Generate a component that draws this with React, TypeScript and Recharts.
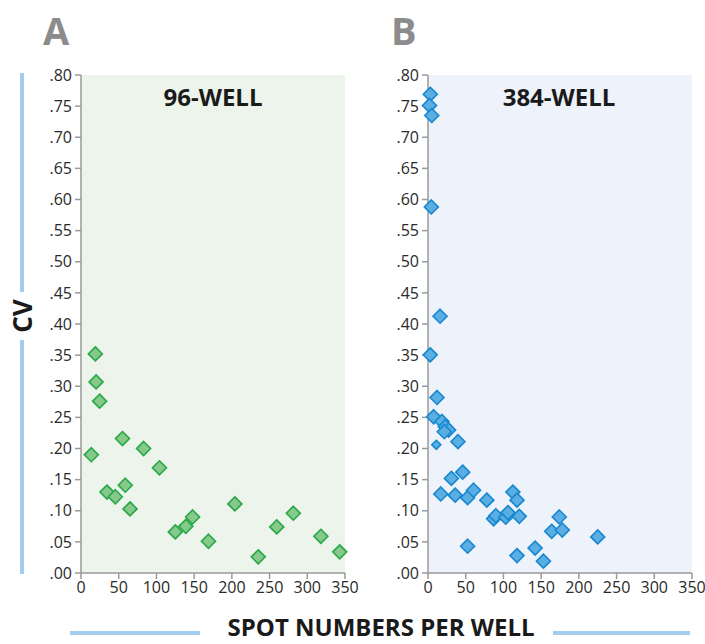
import React from 'react';
import { ScatterChart, Scatter, XAxis, YAxis, CartesianGrid } from 'recharts';

const xTicks = [0, 50, 100, 150, 200, 250, 300, 350];
const yTicks = [0, 0.05, 0.1, 0.15, 0.2, 0.25, 0.3, 0.35, 0.4, 0.45, 0.5, 0.55, 0.6, 0.65, 0.7, 0.75, 0.8];

const wells96 = [
  { x: 19, y: 0.352 },
  { x: 20, y: 0.307 },
  { x: 24.7, y: 0.276 },
  { x: 13.7, y: 0.19 },
  { x: 55, y: 0.216 },
  { x: 83, y: 0.2 },
  { x: 104, y: 0.169 },
  { x: 34.4, y: 0.13 },
  { x: 45.5, y: 0.1225 },
  { x: 58.7, y: 0.141 },
  { x: 65, y: 0.103 },
  { x: 125, y: 0.066 },
  { x: 139, y: 0.075 },
  { x: 148, y: 0.09 },
  { x: 169, y: 0.051 },
  { x: 204, y: 0.111 },
  { x: 235, y: 0.026 },
  { x: 259.5, y: 0.074 },
  { x: 281.5, y: 0.096 },
  { x: 318, y: 0.059 },
  { x: 343, y: 0.034 },
];

const wells384 = [
  { x: 3, y: 0.769 },
  { x: 2, y: 0.751 },
  { x: 5, y: 0.735 },
  { x: 4.4, y: 0.588 },
  { x: 16, y: 0.4125 },
  { x: 3, y: 0.3505 },
  { x: 12, y: 0.282 },
  { x: 7.5, y: 0.251 },
  { x: 18.5, y: 0.2434 },
  { x: 23, y: 0.235 },
  { x: 27.3, y: 0.2296 },
  { x: 21.6, y: 0.227 },
  { x: 39.7, y: 0.211 },
  { x: 46, y: 0.162 },
  { x: 31, y: 0.152 },
  { x: 17, y: 0.127 },
  { x: 36, y: 0.125 },
  { x: 52.5, y: 0.121 },
  { x: 60.4, y: 0.133 },
  { x: 78, y: 0.117 },
  { x: 87, y: 0.087 },
  { x: 90, y: 0.092 },
  { x: 103, y: 0.0896 },
  { x: 106, y: 0.097 },
  { x: 112.5, y: 0.13 },
  { x: 118, y: 0.117 },
  { x: 121, y: 0.091 },
  { x: 52.5, y: 0.043 },
  { x: 118, y: 0.028 },
  { x: 142, y: 0.04 },
  { x: 153, y: 0.019 },
  { x: 164, y: 0.067 },
  { x: 174, y: 0.09 },
  { x: 178, y: 0.069 },
  { x: 225, y: 0.058 },
];

const wells384Small = [{ x: 11, y: 0.206 }];

const FONT = '"Open Sans", "Liberation Sans", sans-serif';

const makeDiamond = (r: number, fill: string, stroke: string) => (props: any) => {
  const { cx, cy } = props;
  if (cx == null || cy == null) return <g />;
  const pts = `${cx},${cy - r} ${cx + r},${cy} ${cx},${cy + r} ${cx - r},${cy}`;
  return <polygon points={pts} fill={fill} stroke={stroke} strokeWidth={1.6} />;
};

const greenDiamond = makeDiamond(7, '#86c98a', '#27a847');
const blueDiamond = makeDiamond(7, '#5aaee2', '#1787cf');
const blueDiamondSmall = makeDiamond(4.5, '#5aaee2', '#1787cf');

const fmtY = (v: number) => v.toFixed(2).replace(/^0/, '');

const axisStroke = '#9a9a9a';

function Panel(props: { left: number; width: number; right: number; bg: string; children: React.ReactNode }) {
  const { left, width, right, bg, children } = props;
  return (
    <div style={{ position: 'absolute', left, top: 0 }}>
      <ScatterChart width={width} height={615} margin={{ top: 75, right, bottom: 12, left: 0 }}>
        <CartesianGrid horizontal={false} vertical={false} fill={bg} />
        <XAxis
          type="number"
          dataKey="x"
          domain={[0, 350]}
          ticks={xTicks}
          interval={0}
          height={30}
          tickSize={6}
          tickMargin={3}
          stroke={axisStroke}
          strokeWidth={1.5}
          tick={{ fill: '#2a2a2a', fontSize: 16, fontFamily: FONT }}
        />
        <YAxis
          type="number"
          dataKey="y"
          domain={[0, 0.8]}
          ticks={yTicks}
          interval={0}
          width={81}
          tickSize={6}
          tickMargin={3}
          tickFormatter={fmtY}
          stroke={axisStroke}
          strokeWidth={1.5}
          tick={{ fill: '#2a2a2a', fontSize: 16, fontFamily: FONT }}
        />
        {children}
      </ScatterChart>
    </div>
  );
}

export default function App() {
  return (
    <div style={{ position: 'absolute', left: 0, top: 0, width: 705, height: 644, overflow: 'hidden', background: '#fff' }}>
      <Panel left={0} width={375} right={30} bg="#edf4ec">
        <Scatter data={wells96} shape={greenDiamond} isAnimationActive={false} />
      </Panel>
      <Panel left={347} width={358} right={13} bg="#edf2fb">
        <Scatter data={wells384} shape={blueDiamond} isAnimationActive={false} />
        <Scatter data={wells384Small} shape={blueDiamondSmall} isAnimationActive={false} />
      </Panel>
      <svg width={705} height={644} style={{ position: 'absolute', left: 0, top: 0, pointerEvents: 'none' }}>
        <text x={43} y={45} fontSize={38} fontWeight={700} fill="#8c8c8c" fontFamily={FONT}>A</text>
        <text x={391} y={45} fontSize={38} fontWeight={700} fill="#8c8c8c" fontFamily={FONT}>B</text>
        <text x={213} y={106} textAnchor="middle" fontSize={24} fontWeight={700} fill="#1a1a1a" fontFamily={FONT}>96-WELL</text>
        <text x={559} y={106} textAnchor="middle" fontSize={24} fontWeight={700} fill="#1a1a1a" fontFamily={FONT}>384-WELL</text>
        <rect x={20} y={73} width={4} height={219} fill="#a3cdee" />
        <rect x={20} y={340} width={4} height={234} fill="#a3cdee" />
        <text
          x={22}
          y={316}
          transform="rotate(-90 22 316)"
          textAnchor="middle"
          dominantBaseline="central"
          fontSize={26}
          fontWeight={700}
          fill="#1a1a1a"
          fontFamily={FONT}
        >
          CV
        </text>
        <rect x={70} y={631} width={130} height={4} fill="#a3cdee" />
        <rect x={553} y={631} width={137} height={4} fill="#a3cdee" />
        <text x={381} y={636} textAnchor="middle" fontSize={24} fontWeight={700} fill="#1a1a1a" fontFamily={FONT}>
          SPOT NUMBERS PER WELL
        </text>
      </svg>
    </div>
  );
}
